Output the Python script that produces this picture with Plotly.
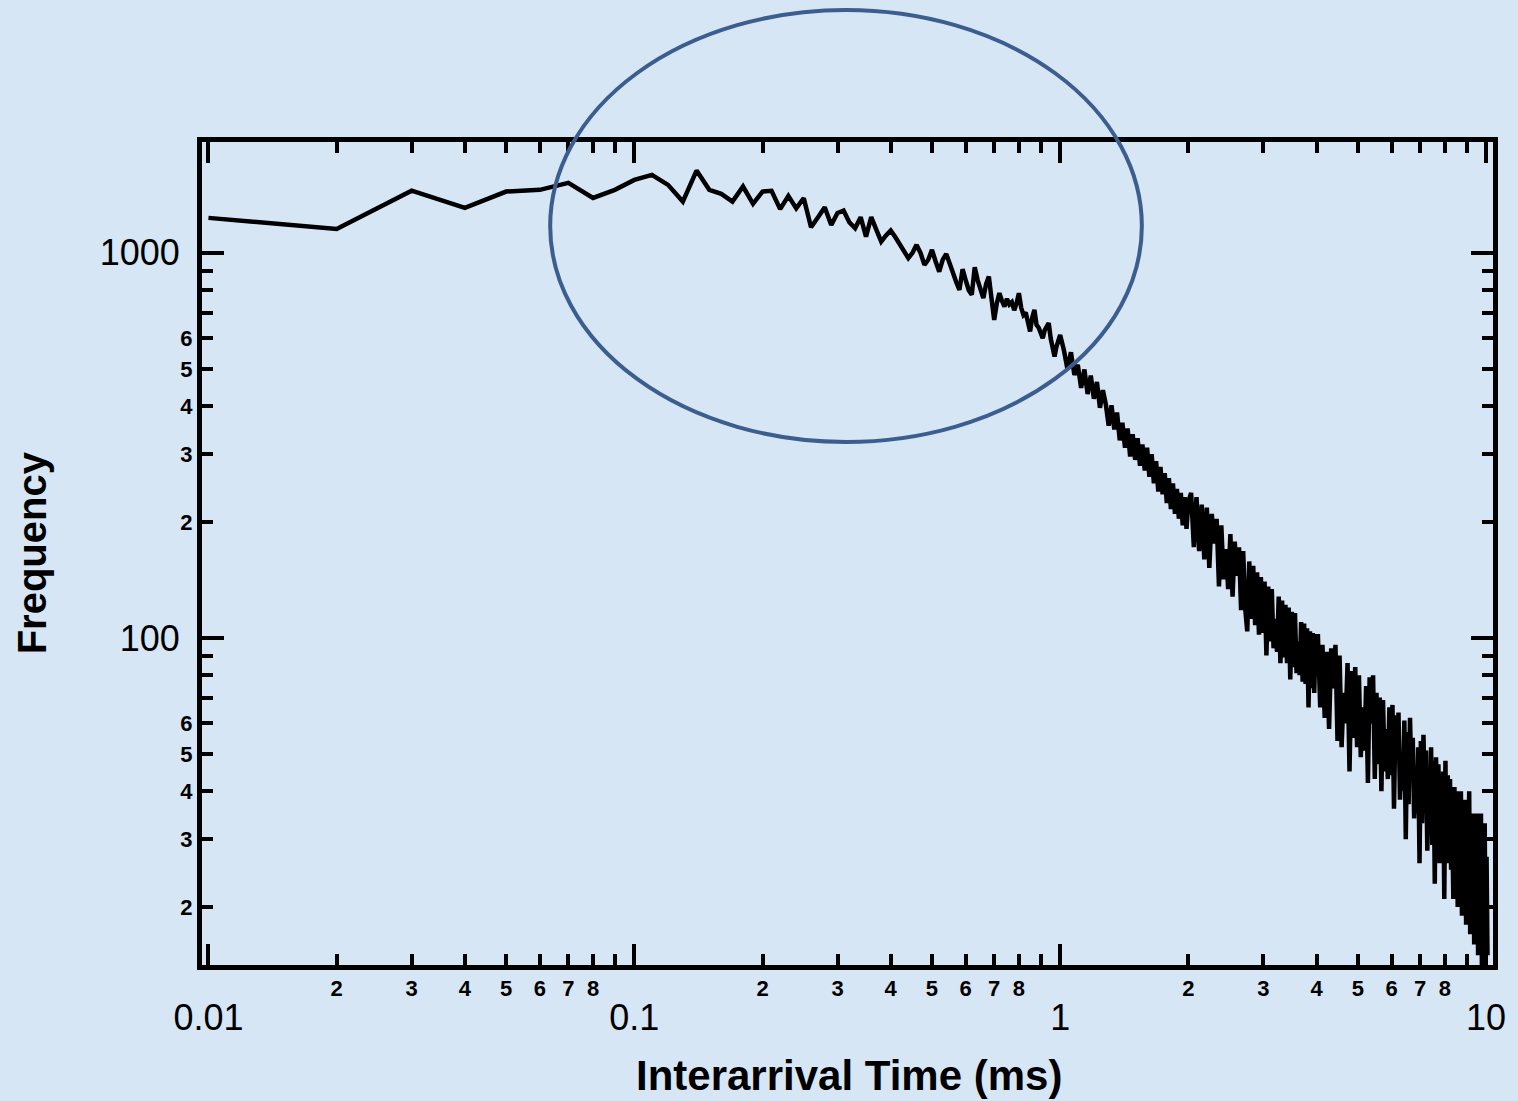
import plotly.graph_objects as go

# ---------------- data ----------------
x_seg1 = [0.01, 0.02, 0.03, 0.04, 0.05, 0.06, 0.07, 0.08, 0.09, 0.10,
          0.11, 0.12, 0.13, 0.14, 0.15, 0.16, 0.17, 0.18, 0.19, 0.20,
          0.21, 0.22, 0.23, 0.24, 0.25, 0.26, 0.27, 0.28, 0.29, 0.30,
          0.31, 0.32, 0.33, 0.34, 0.35, 0.36, 0.37, 0.38, 0.39, 0.40,
          0.41, 0.42, 0.43, 0.44, 0.45, 0.46, 0.47, 0.48, 0.49, 0.50,
          0.51, 0.52, 0.53, 0.54, 0.55, 0.56, 0.57, 0.58, 0.59, 0.60,
          0.61, 0.62, 0.63, 0.64, 0.65, 0.66, 0.67, 0.68, 0.69, 0.70,
          0.71, 0.72, 0.73, 0.74, 0.75, 0.76, 0.77, 0.78, 0.79, 0.80,
          0.81, 0.82, 0.83, 0.84, 0.85, 0.86, 0.87, 0.88, 0.89, 0.90,
          0.91, 0.92, 0.93, 0.94, 0.95, 0.96, 0.97, 0.98, 0.99, 1.00]
y_seg1 = [1233, 1154, 1451, 1309, 1443, 1458, 1520, 1389, 1458, 1547,
          1594, 1502, 1359, 1636, 1458, 1423, 1359, 1487, 1341, 1443,
          1449, 1299, 1406, 1305, 1387, 1166, 1238, 1314, 1182, 1270,
          1288, 1200, 1159, 1238, 1102, 1238, 1150, 1070, 1110, 1143,
          1100, 1050, 1010, 969, 1000, 1049, 1000, 931, 960, 1018,
          950, 894, 960, 994, 940, 880, 840, 801, 907, 850,
          800, 778, 918, 850, 800, 763, 830, 868, 760, 670,
          740, 786, 750, 726, 760, 735, 745, 710, 740, 786,
          720, 690, 700, 660, 625, 680, 711, 650, 640, 620,
          600, 630, 640, 657, 600, 570, 538, 570, 590, 612]

x_seg2 = [1.02, 1.04, 1.06, 1.08, 1.10, 1.12, 1.14, 1.16, 1.18, 1.20,
          1.22, 1.24, 1.26, 1.28, 1.30, 1.32, 1.34, 1.36, 1.38, 1.40,
          1.42, 1.44, 1.46, 1.48, 1.50, 1.52, 1.54, 1.56, 1.58, 1.60,
          1.62, 1.64, 1.66, 1.68, 1.70, 1.72, 1.74, 1.76, 1.78, 1.80,
          1.82, 1.84, 1.86, 1.88, 1.90, 1.92, 1.94, 1.96, 1.98, 2.00]
y_seg2 = [560, 500, 552, 482, 512, 446, 498, 430, 480, 418,
          462, 396, 440, 404, 356, 402, 348, 385, 326, 362,
          312, 350, 296, 338, 290, 330, 280, 318, 272, 312,
          262, 300, 252, 288, 240, 278, 236, 268, 224, 260,
          216, 252, 210, 244, 204, 238, 196, 232, 192, 226]

x_seg3 = [2.03, 2.06, 2.09, 2.12, 2.15, 2.18, 2.21, 2.24, 2.27, 2.30,
          2.33, 2.36, 2.39, 2.42, 2.45, 2.48, 2.51, 2.54, 2.57, 2.60,
          2.63, 2.66, 2.69, 2.72, 2.75, 2.78, 2.81, 2.84, 2.87, 2.90,
          2.93, 2.96, 2.99, 3.02, 3.05, 3.08, 3.11, 3.14, 3.17, 3.20,
          3.23, 3.26, 3.29, 3.32, 3.35, 3.38, 3.41, 3.44, 3.47, 3.50,
          3.53, 3.56, 3.59, 3.62, 3.65, 3.68, 3.71, 3.74, 3.77, 3.80,
          3.83, 3.86, 3.89, 3.92, 3.95, 3.98]
y_seg3 = [238, 172, 232, 168, 222, 160, 218, 152, 210, 176,
          204, 136, 196, 142, 170, 134, 186, 128, 178, 145,
          172, 118, 168, 119, 104, 158, 112, 154, 108, 148,
          102, 144, 103, 140, 90, 136, 98, 134, 94, 112,
          92, 128, 86, 125, 89, 122, 86, 120, 78, 117,
          84, 116, 81, 98, 80, 110, 77, 109, 76, 106,
          66, 104, 74, 103, 72, 101]

x_seg4 = [4.03, 4.08, 4.13, 4.18, 4.23, 4.28, 4.33, 4.38, 4.43, 4.48,
          4.53, 4.58, 4.63, 4.68, 4.73, 4.78, 4.83, 4.88, 4.93, 4.98,
          5.03, 5.08, 5.13, 5.18, 5.23, 5.28, 5.33, 5.38, 5.43, 5.48,
          5.53, 5.58, 5.63, 5.68, 5.73, 5.78, 5.83, 5.88, 5.93, 5.98,
          6.03, 6.08, 6.13, 6.18, 6.23, 6.28, 6.33, 6.38, 6.43, 6.48,
          6.53, 6.58, 6.63, 6.68, 6.73, 6.78, 6.83, 6.88, 6.93, 6.98,
          7.03, 7.08, 7.13, 7.18, 7.23, 7.28, 7.33, 7.38, 7.43, 7.48,
          7.53, 7.58, 7.63, 7.68, 7.73, 7.78, 7.83, 7.88, 7.93, 7.98,
          8.03, 8.08, 8.13, 8.18, 8.23, 8.28, 8.33, 8.38, 8.43, 8.48,
          8.53, 8.58, 8.63, 8.68, 8.73, 8.78, 8.83, 8.88, 8.93, 8.98,
          9.03, 9.08, 9.13, 9.18, 9.23, 9.28, 9.33, 9.38, 9.43, 9.48,
          9.53, 9.58, 9.63, 9.68, 9.73, 9.78, 9.83, 9.88, 9.93, 9.98,
          10.03, 10.08]
y_seg4 = [101, 66, 96, 62, 92, 58, 94, 74, 96, 54,
          90, 52, 72, 60, 86, 45, 82, 55, 84, 52,
          80, 49, 66, 51, 75, 42, 79, 60, 80, 43,
          72, 47, 70, 40, 69, 45, 58, 43, 66, 44,
          67, 36, 63, 50, 64, 38, 50, 40, 61, 30,
          57, 37, 62, 44, 55, 34, 45, 35, 52, 26,
          54, 33, 56, 40, 51, 28, 40, 31, 52, 29,
          48, 23, 49, 37, 47, 26, 38, 28, 45, 21,
          48, 26, 44, 30, 43, 25, 33, 21, 41, 24,
          40, 20, 39, 22, 40, 19, 28, 21, 38, 18,
          36, 20, 40, 17, 34, 19, 35, 16, 33, 18,
          35, 15, 31, 17, 35, 14, 31, 16, 33, 14,
          27, 15]

x_major_ticks = [0.01, 0.1, 1, 10]
x_major_labels = ["0.01", "0.1", "1", "10"]
x_minor_ticks = [0.02, 0.03, 0.04, 0.05, 0.06, 0.07, 0.08, 0.09,
                 0.2, 0.3, 0.4, 0.5, 0.6, 0.7, 0.8, 0.9,
                 2, 3, 4, 5, 6, 7, 8, 9]
x_minor_labels = ["2", "3", "4", "5", "6", "7", "8", ""] * 3

y_major_ticks = [100, 1000]
y_major_labels = ["100", "1000"]
y_minor_ticks = [20, 30, 40, 50, 60, 70, 80, 90,
                 200, 300, 400, 500, 600, 700, 800, 900]
y_minor_labels = ["2", "3", "4", "5", "6", "", "", ""] * 2

x_title = "Interarrival Time (ms)"
y_title = "Frequency"

x_all = x_seg1 + x_seg2 + x_seg3 + x_seg4
y_all = y_seg1 + y_seg2 + y_seg3 + y_seg4

# ---------------- figure ----------------
FONT = "Liberation Sans, Arial, Helvetica, sans-serif"
BG = "#d7e6f5"
XR = [-2.0152, 1.0164]
YR = [1.1506, 3.288]

fig = go.Figure()
fig.add_trace(go.Scatter(x=x_all, y=y_all, mode="lines",
                         line=dict(color="black", width=4.5),
                         hoverinfo="skip"))
fig.add_trace(go.Scatter(x=[], y=[], xaxis="x2", yaxis="y2", mode="lines"))

common = dict(type="log", showgrid=False, zeroline=False, showline=True,
              linecolor="black", linewidth=5, ticks="inside",
              tickcolor="black", tickwidth=4, mirror="allticks")

fig.update_layout(
    width=1518, height=1101,
    margin=dict(l=202, r=22, t=142, b=136),
    paper_bgcolor=BG, plot_bgcolor=BG,
    showlegend=False,
    font=dict(family=FONT, color="black"),
    xaxis=dict(**common, range=XR, tickmode="array",
               tickvals=x_major_ticks, ticktext=x_major_labels,
               ticklen=21, tickfont=dict(size=36, family=FONT),
               ticklabelstandoff=17),
    xaxis2=dict(**common, range=XR, overlaying="x", anchor="y2", side="bottom",
                tickmode="array", tickvals=x_minor_ticks,
                ticktext=x_minor_labels, ticklen=11,
                tickfont=dict(size=22, family=FONT, weight="bold"),
                ticklabelstandoff=0),
    yaxis=dict(**common, range=YR, tickmode="array",
               tickvals=y_major_ticks, ticktext=y_major_labels,
               ticklen=22, tickfont=dict(size=36, family=FONT),
               ticklabelstandoff=10),
    yaxis2=dict(**common, range=YR, overlaying="y", anchor="x2", side="left",
                tickmode="array", tickvals=y_minor_ticks,
                ticktext=y_minor_labels, ticklen=11,
                tickfont=dict(size=22, family=FONT, weight="bold"),
                ticklabelstandoff=0),
    annotations=[
        dict(text=y_title, xref="paper", yref="paper", x=-0.1314, y=0.5006,
             textangle=-90, showarrow=False, xanchor="center", yanchor="middle",
             font=dict(size=40, family=FONT, weight="bold")),
        dict(text=x_title, xref="paper", yref="paper", x=0.5008, y=-0.1337,
             showarrow=False, xanchor="center", yanchor="middle",
             font=dict(size=42, family=FONT, weight="bold")),
    ],
    shapes=[
        dict(type="circle", xref="paper", yref="paper",
             x0=0.2697, x1=0.728, y0=0.6355, y1=1.1604,
             line=dict(color="#3b5e8e", width=4), layer="above"),
    ],
)

fig.write_html("out.html", config={"displayModeBar": False},
               post_script="document.body.style.margin='0';")
